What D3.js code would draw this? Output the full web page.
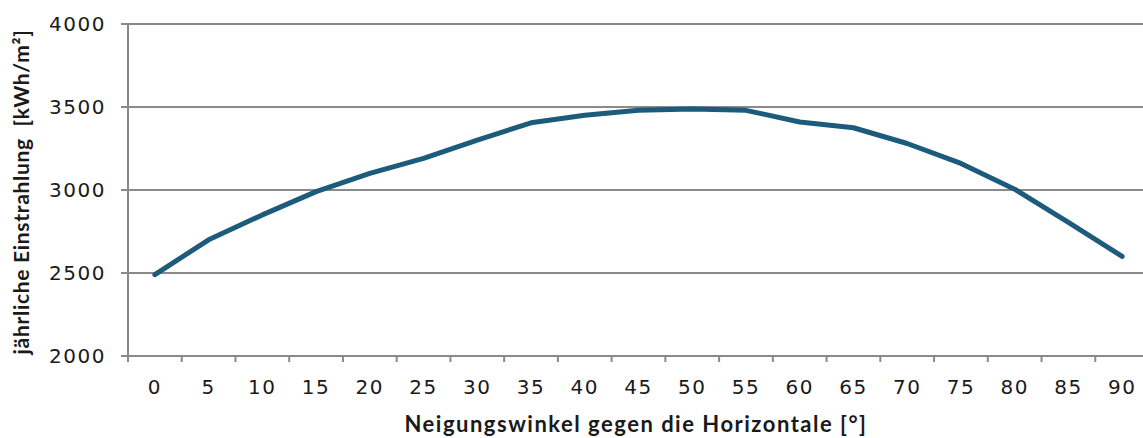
<!DOCTYPE html>
<html>
<head>
<meta charset="utf-8">
<script src="https://cdn.jsdelivr.net/npm/d3@7"></script>
<style>
  body { margin: 0; background: #fff; }
  svg { display: block; }
  text { font-family: "Lato", "DejaVu Sans", sans-serif; fill: #1a1a1a; }
</style>
</head>
<body>
<div class="chart"></div>
<script>
let lineBlue = "#1d5b7d";
let gridGray = "#8a8a8a";

// tilt angle categories and yearly irradiation values
const angles = [0, 5, 10, 15, 20, 25, 30, 35, 40, 45, 50, 55, 60, 65, 70, 75, 80, 85, 90];
const irradiation = [2490, 2700, 2850, 2990, 3100, 3190, 3300, 3405, 3450, 3480, 3488, 3480, 3410, 3375, 3280, 3160, 3005, 2805, 2600];
const yTicks = [2000, 2500, 3000, 3500, 4000];

const xTitle = "Neigungswinkel gegen die Horizontale [°]";
const yTitle = "jährliche Einstrahlung\u00a0 [kWh/m²]";

const width = 1143;
const height = 438;
const margin = { top: 24, right: -6, bottom: 82, left: 128 };

const boundedWidth = width - margin.left - margin.right;
const boundedHeight = height - margin.top - margin.bottom;

const data = angles.map((a, i) => ({ angle: a, value: irradiation[i] }));

const svg = d3.select(".chart")
  .append("svg")
  .attr("width", width)
  .attr("height", height);

const g = svg.append("g")
  .attr("transform", `translate(${margin.left}, ${margin.top})`);

//scales
const xScale = d3.scaleBand()
  .domain(angles)
  .range([0, boundedWidth])
  .padding(0);

const yScale = d3.scaleLinear()
  .domain([2000, 4000])
  .range([boundedHeight, 0]);

//gridlines
g.selectAll(".grid")
  .data(yTicks)
  .enter()
  .append("line")
  .attr("class", "grid")
  .attr("x1", -7)
  .attr("x2", boundedWidth)
  .attr("y1", d => yScale(d))
  .attr("y2", d => yScale(d))
  .attr("stroke", gridGray)
  .attr("stroke-width", 2);

//Y axis
const yAxis = g.append("g")
  .attr("class", "yaxis")
  .call(d3.axisLeft(yScale).tickValues(yTicks).tickFormat(d3.format("d")).tickSize(0).tickPadding(22));

yAxis.select(".domain").remove();
yAxis.selectAll(".tick text")
  .style("font-size", "20px")
  .style("letter-spacing", "1.5px")
  .style("font-family", "'DejaVu Sans', sans-serif")
  .attr("fill", "#1a1a1a");

g.append("line")
  .attr("x1", 0)
  .attr("x2", 0)
  .attr("y1", 0)
  .attr("y2", boundedHeight + 6)
  .attr("stroke", gridGray)
  .attr("stroke-width", 2);

//X axis
const xAxis = g.append("g")
  .attr("class", "xaxis")
  .attr("transform", `translate(0, ${boundedHeight})`)
  .call(d3.axisBottom(xScale).tickSize(0).tickPadding(24));

xAxis.select(".domain").remove();
xAxis.selectAll(".tick text")
  .style("font-size", "20px")
  .style("letter-spacing", "1.5px")
  .style("font-family", "'DejaVu Sans', sans-serif")
  .attr("fill", "#1a1a1a");

// tick marks between categories
g.selectAll(".xtick")
  .data(angles)
  .enter()
  .append("line")
  .attr("class", "xtick")
  .attr("x1", d => xScale(d))
  .attr("x2", d => xScale(d))
  .attr("y1", boundedHeight)
  .attr("y2", boundedHeight + 6)
  .attr("stroke", gridGray)
  .attr("stroke-width", 2);

//line
const line = d3.line()
  .x(d => xScale(d.angle) + xScale.bandwidth() / 2)
  .y(d => yScale(d.value));

g.append("path")
  .datum(data)
  .attr("d", line)
  .attr("fill", "none")
  .attr("stroke", lineBlue)
  .attr("stroke-width", 5)
  .attr("stroke-linecap", "round")
  .attr("stroke-linejoin", "round");

//axis titles
svg.append("text")
  .attr("x", 636)
  .attr("y", 432)
  .attr("text-anchor", "middle")
  .style("font-size", "22px")
  .style("font-weight", "bold")
  .style("letter-spacing", "1.5px")
  .text(xTitle);

svg.append("text")
  .attr("transform", `translate(29, 192) rotate(-90)`)
  .attr("text-anchor", "middle")
  .style("font-size", "21px")
  .style("font-weight", "bold")
  .style("letter-spacing", "0.7px")
  .text(yTitle);
</script>
</body>
</html>
